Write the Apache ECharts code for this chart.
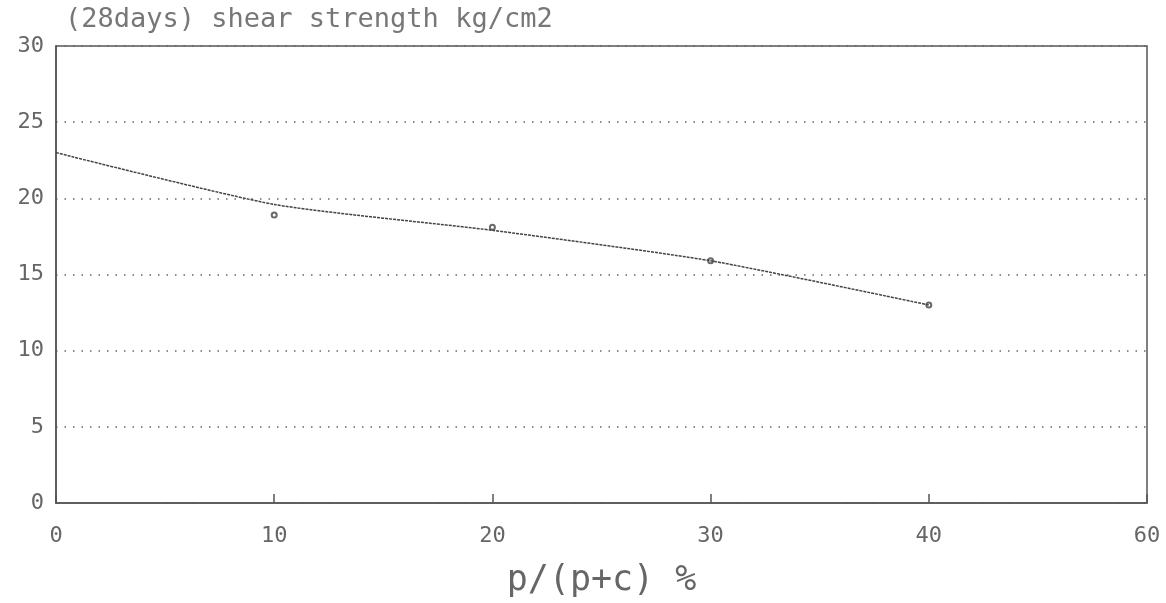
<!DOCTYPE html>
<html>
<head>
<meta charset="utf-8">
<script src="https://cdn.jsdelivr.net/npm/echarts@6/dist/echarts.min.js"></script>
<style>
  html, body { margin: 0; padding: 0; background: #fff; }
  #chart { width: 1166px; height: 603px; }
</style>
</head>
<body>
<div id="chart"></div>
<script>
(function () {
    'use strict';

    // p/(p+c) %  -> x values
    var ratio = [0, 10, 20, 30, 40];
    // fitted line through the measured points
    var fitStrength = [23.0, 19.6, 17.9, 15.9, 13.0];
    // measured points (28 days)
    var pointRatio = [10, 20, 30, 40];
    var pointStrength = [18.9, 18.1, 15.9, 13.0];

    // printed tick labels, left to right (last one is printed as 60)
    var xTickLabels = ['0', '10', '20', '30', '40', '60'];
    var yTickLabels = ['0', '5', '10', '15', '20', '25', '30'];

    var fitData = ratio.map(function (r, i) { return [r, fitStrength[i]]; });
    var pointData = pointRatio.map(function (r, i) { return [r, pointStrength[i]]; });

    var font = 'DejaVu Sans Mono';
    var ink = '#555';

    var option = {
        backgroundColor: '#fff',
        animation: false,
        title: {
            text: '(28days) shear strength kg/cm2',
            left: 60,
            top: 1,
            textStyle: {
                fontFamily: font,
                fontSize: 27,
                fontWeight: 'normal',
                color: '#777'
            }
        },
        grid: {
            left: 56,
            right: 19,
            top: 46,
            bottom: 96,
            show: true,
            borderColor: ink,
            borderWidth: 1.5,
            backgroundColor: 'transparent'
        },
        xAxis: {
            type: 'value',
            min: 0,
            max: 50,
            interval: 10,
            name: 'p/(p+c) %',
            nameLocation: 'middle',
            nameGap: 60,
            nameTextStyle: {
                fontFamily: font,
                fontSize: 35,
                color: '#666'
            },
            axisLine: { show: true, lineStyle: { color: ink, width: 1.5 } },
            axisTick: { show: true, inside: true, length: 9, lineStyle: { color: ink, width: 1.5 } },
            axisLabel: {
                margin: 22,
                fontFamily: font,
                fontSize: 22,
                color: '#666',
                formatter: function (v) {
                    return xTickLabels[Math.round(v / 10)];
                }
            },
            splitLine: { show: false }
        },
        yAxis: {
            type: 'value',
            min: 0,
            max: 30,
            interval: 5,
            axisLine: { show: true, lineStyle: { color: ink, width: 1.5 } },
            axisTick: { show: false },
            axisLabel: {
                margin: 12,
                fontFamily: font,
                fontSize: 22,
                color: '#666',
                formatter: function (v) {
                    return yTickLabels[Math.round(v / 5)];
                }
            },
            splitLine: {
                show: true,
                lineStyle: { color: '#666', width: 1.5, type: [1.5, 7] }
            }
        },
        series: [
            {
                name: 'fit',
                type: 'line',
                data: fitData,
                smooth: 0.2,
                showSymbol: false,
                lineStyle: { color: '#444', width: 1.5, type: [3, 1] }
            },
            {
                name: 'measured',
                type: 'scatter',
                data: pointData,
                symbol: 'emptyCircle',
                symbolSize: 5,
                itemStyle: { color: '#444', borderColor: '#444', borderWidth: 1 }
            }
        ]
    };

    var chart = echarts.init(document.getElementById('chart'));
    chart.setOption(option);
})();
</script>
</body>
</html>
